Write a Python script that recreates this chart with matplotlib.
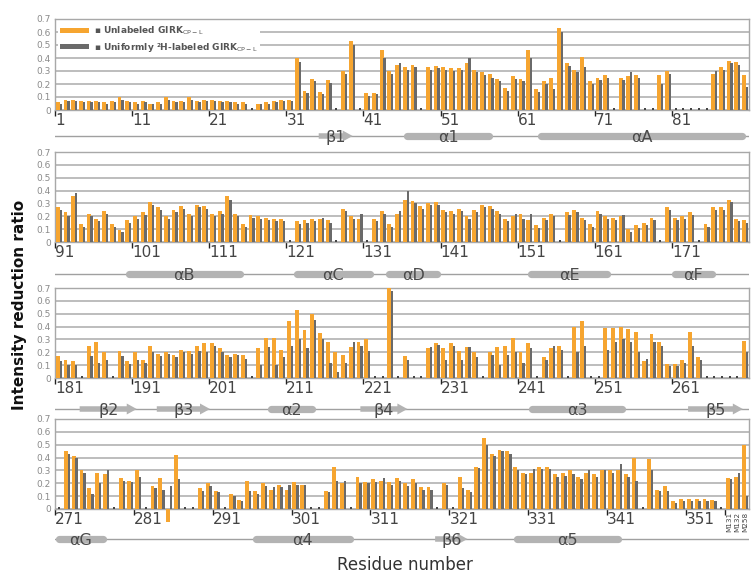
import numpy as np
import matplotlib
matplotlib.use('Agg')
import matplotlib.pyplot as plt
from matplotlib.patches import Patch, FancyArrow

nan = np.nan

# ---------------- data ----------------
p1_orange = [0.06,0.08,0.08,0.07,0.07,0.07,0.06,0.07,0.10,0.07,
             0.06,0.07,0.05,0.06,0.10,0.07,0.07,0.10,0.07,0.08,
             0.08,0.07,0.07,0.06,0.06,nan,0.05,0.06,0.07,0.08,
             0.08,0.40,0.15,0.24,0.14,0.23,nan,0.30,0.53,nan,
             0.13,0.13,0.46,0.30,0.35,0.33,0.35,nan,0.33,0.34,
             0.33,0.32,0.32,0.36,0.31,0.29,0.28,0.24,0.17,0.26,
             0.24,0.46,0.16,0.22,0.25,0.63,0.36,0.31,0.41,0.22,
             0.25,0.27,nan,0.25,0.26,0.27,nan,nan,0.27,0.30,
             nan,nan,nan,nan,nan,0.28,0.33,0.38,0.37,0.27]
p1_gray = [0.05,0.07,0.07,0.06,0.06,0.06,0.05,0.06,0.08,0.06,
           0.05,0.06,0.05,0.05,0.08,0.06,0.06,0.08,0.06,0.07,
           0.07,0.06,0.06,0.05,0.05,nan,0.05,0.05,0.06,0.07,
           0.07,0.37,0.13,0.22,0.12,0.21,nan,0.28,0.50,nan,
           0.11,0.12,0.40,0.28,0.36,0.31,0.33,nan,0.31,0.32,
           0.31,0.30,0.31,0.40,0.29,0.27,0.25,0.22,0.15,0.24,
           0.22,0.40,0.14,0.20,0.16,0.60,0.34,0.29,0.33,0.20,
           0.23,0.25,nan,0.23,0.29,0.25,nan,nan,0.20,0.28,
           nan,nan,nan,nan,nan,0.30,0.31,0.36,0.35,0.18]

p2_orange = [0.27,0.23,0.36,0.14,0.22,0.18,0.24,0.14,0.09,0.17,
             0.20,0.23,0.31,0.27,0.20,0.25,0.28,0.22,0.29,0.28,
             0.22,0.24,0.36,0.22,0.14,0.21,0.20,0.19,0.18,0.18,
             nan,0.16,0.17,0.18,0.18,0.17,nan,0.26,0.20,0.18,
             nan,0.18,0.24,0.14,0.22,0.33,0.32,0.28,0.30,0.31,
             0.25,0.24,0.26,0.20,0.25,0.29,0.28,0.24,0.18,0.20,
             0.22,0.17,0.13,0.19,0.22,nan,0.23,0.25,0.19,0.14,
             0.24,0.20,0.19,0.20,0.10,0.13,0.15,0.19,nan,0.27,
             0.19,0.20,0.23,nan,0.14,0.27,0.27,0.33,0.18,0.17]
p2_gray = [0.25,0.20,0.38,0.12,0.20,0.16,0.22,0.12,0.08,0.15,
           0.18,0.21,0.29,0.25,0.18,0.23,0.26,0.20,0.27,0.26,
           0.20,0.22,0.33,0.20,0.12,0.19,0.18,0.17,0.16,0.16,
           nan,0.14,0.15,0.16,0.19,0.15,nan,0.24,0.18,0.22,
           nan,0.16,0.22,0.12,0.24,0.40,0.30,0.26,0.29,0.29,
           0.23,0.22,0.24,0.18,0.23,0.27,0.26,0.22,0.16,0.22,
           0.18,0.22,0.11,0.17,0.20,nan,0.21,0.23,0.17,0.12,
           0.22,0.18,0.17,0.21,0.08,0.11,0.13,0.17,nan,0.25,
           0.17,0.18,0.21,nan,0.12,0.25,0.25,0.31,0.16,0.15]

p3_orange = [0.17,0.14,0.13,nan,0.25,0.28,0.20,nan,0.21,0.13,
             0.20,0.14,0.25,0.19,0.20,0.18,0.22,0.21,0.25,0.27,
             0.27,0.23,0.18,0.19,0.18,nan,0.23,0.31,0.31,0.22,
             0.44,0.53,0.37,0.50,0.35,0.28,0.20,0.18,0.24,0.28,
             0.30,nan,nan,0.70,nan,0.17,nan,nan,0.23,0.27,
             0.23,0.27,0.21,0.24,0.20,nan,0.20,0.24,0.25,0.31,
             0.20,0.27,nan,0.16,0.23,0.25,nan,0.40,0.44,nan,
             nan,0.39,0.39,0.40,0.38,0.36,0.13,0.34,0.28,0.11,
             0.11,0.14,0.36,0.16,nan,nan,nan,nan,nan,0.29]
p3_gray = [0.13,0.10,0.10,nan,0.17,0.12,0.14,nan,0.17,0.11,
           0.14,0.12,0.20,0.17,0.19,0.16,0.20,0.19,0.21,0.20,
           0.25,0.20,0.16,0.18,0.15,nan,0.10,0.24,0.10,0.16,
           0.25,0.30,0.23,0.45,0.30,0.12,0.05,0.12,0.28,0.25,
           0.21,nan,nan,0.68,nan,0.14,nan,nan,0.24,0.26,
           0.14,0.25,0.14,0.24,0.16,nan,0.18,0.10,0.18,0.20,
           0.12,0.23,nan,0.14,0.25,0.22,nan,0.20,0.25,nan,
           nan,0.22,0.28,0.30,0.28,0.20,0.15,0.28,0.25,0.09,
           0.09,0.12,0.25,0.14,nan,nan,nan,nan,nan,0.20]

p4_orange = [nan,0.45,0.41,0.30,0.16,0.28,0.27,nan,0.24,0.22,
             0.30,nan,0.18,0.24,-0.10,0.42,nan,nan,0.16,0.20,
             0.14,nan,0.12,0.07,0.22,0.14,0.20,0.15,0.19,0.15,
             0.21,0.19,nan,nan,0.14,0.33,0.20,nan,0.25,0.21,
             0.23,0.22,0.21,0.24,0.20,0.23,0.17,0.17,nan,0.20,
             nan,0.25,0.15,0.33,0.55,0.43,0.46,0.45,0.33,0.28,
             0.28,0.33,0.33,0.27,0.28,0.30,0.25,0.28,0.27,0.30,
             0.30,0.30,0.27,0.40,nan,0.39,0.15,0.18,0.06,0.08,
             0.08,0.08,0.08,0.07,nan,0.24,0.25,0.50]
p4_gray = [nan,0.43,0.40,0.28,0.12,0.20,0.30,nan,0.22,0.21,
           0.25,nan,0.16,0.15,0.18,0.23,nan,nan,0.14,0.18,
           0.13,nan,0.10,0.06,0.14,0.12,0.18,0.17,0.17,0.19,
           0.19,0.19,nan,nan,0.13,0.22,0.22,nan,0.20,0.20,
           0.21,0.24,0.19,0.22,0.18,0.20,0.15,0.15,nan,0.19,
           nan,0.16,0.13,0.32,0.50,0.41,0.45,0.43,0.30,0.27,
           0.31,0.31,0.31,0.25,0.26,0.27,0.23,0.30,0.25,0.30,
           0.28,0.35,0.25,0.22,nan,0.30,0.14,0.14,0.05,0.06,
           0.06,0.06,0.06,0.06,nan,0.23,0.28,0.10]

p1_ticks = ['1', '11', '21', '31', '41', '51', '61', '71', '81']
p2_ticks = ['91', '101', '111', '121', '131', '141', '151', '161', '171']
p3_ticks = ['181', '191', '201', '211', '221', '231', '241', '251', '261']
p4_ticks = ['271', '281', '291', '301', '311', '321', '331', '341', '351']
p4_extra = ['M131', 'M132', 'M258']

# secondary structure: (kind, start, end, label) in slot units
p1_ss = [('E', 34.2, 38.6, 'β1'), ('H', 45.2, 56.8, 'α1'), ('H', 62.6, 89.6, 'αA')]
p2_ss = [('H', 9.1, 24.4, 'αB'), ('H', 30.9, 41.3, 'αC'), ('H', 42.9, 50.0, 'αD'),
         ('H', 61.3, 72.1, 'αE'), ('H', 79.9, 85.7, 'αF')]
p3_ss = [('E', 3.2, 10.6, 'β2'), ('E', 13.2, 20.1, 'β3'), ('H', 27.5, 33.8, 'α2'),
         ('E', 39.6, 45.7, 'β4'), ('H', 61.4, 74.0, 'α3'), ('E', 82.1, 89.2, 'β5')]
p4_ss = [('H', 0.0, 6.5, 'αG'), ('H', 25.0, 37.8, 'α4'), ('E', 48.2, 52.3, 'β6'),
         ('H', 58.1, 71.8, 'α5')]

legend_labels = ['▪ Unlabeled GIRK$_{\\rm CP-L}$', '▪ Uniformly ²H-labeled GIRK$_{\\rm CP-L}$']

# ---------------- drawing ----------------
W, H = 753, 574
fig = plt.figure(figsize=(W / 100, H / 100), dpi=100)
fig.patch.set_facecolor('white')

ORANGE = '#F6A530'
GRAY = '#6A6A6A'
SSCOL = '#b3b3b3'

panels = [
    (p1_orange, p1_gray, p1_ticks, p1_ss, 19, 110, 136),
    (p2_orange, p2_gray, p2_ticks, p2_ss, 152, 242, 274),
    (p3_orange, p3_gray, p3_ticks, p3_ss, 288, 378, 409),
    (p4_orange, p4_gray, p4_ticks, p4_ss, 419, 509, 539),
]

L, R = 55, 749
axes = []
for k, (orng, gry, ticks, ss, top, bot, ssc) in enumerate(panels):
    orng = np.array(orng, dtype=float)
    gry = np.array(gry, dtype=float)
    n = len(orng)
    ax = fig.add_axes([L / W, 1 - bot / H, (R - L) / W, (bot - top) / H])
    axes.append(ax)
    x = np.arange(n)
    ax.bar(x + 0.36, orng, width=0.50, color=ORANGE, zorder=3, clip_on=False, linewidth=0)
    ax.bar(x + 0.74, gry, width=0.30, color=GRAY, zorder=3, clip_on=False, linewidth=0)
    miss = np.isnan(orng) & np.isnan(gry)
    ax.scatter(x[miss] + 0.5, np.full(miss.sum(), 0.01), marker='s', s=4,
               color='#444444', zorder=4, clip_on=False, linewidths=0)
    ax.set_xlim(0, n)
    ax.set_ylim(0, 0.7)
    yt = np.round(np.arange(0, 0.71, 0.1), 1)
    ax.set_yticks(yt)
    ax.set_yticklabels(['0'] + ['%.1f' % v for v in yt[1:]])
    ax.yaxis.grid(True, color='#bdbdbd', lw=1.4)
    ax.set_axisbelow(True)
    for sp in ax.spines.values():
        sp.set_color('#a8a8a8')
        sp.set_linewidth(1.0)
    ax.tick_params(axis='y', length=0, labelsize=6.5, labelcolor='#8a8a8a', pad=3)
    tpos = list(range(0, 10 * len(ticks), 10))
    tlab = list(ticks)
    if k == 3:
        tpos.append(85)
        tlab.append('')
    ax.set_xticks(tpos)
    ax.set_xticklabels(tlab, fontsize=11, color='#444444')
    ax.tick_params(axis='x', length=4, width=1, color='#222222', pad=-2)
    for lab in ax.get_xticklabels():
        lab.set_ha('left')
    if k == 3:
        for j, t in enumerate(p4_extra):
            ax.text(85 + j + 0.5, -0.025, t, rotation=90, ha='center', va='top',
                    fontsize=5.2, color='#444444', clip_on=False)

    # secondary structure row
    sax = fig.add_axes([L / W, 1 - (ssc + 10) / H, (R - L) / W, 20 / H])
    sax.set_xlim(0, n)
    sax.set_ylim(-1, 1)
    sax.axis('off')
    sax.plot([0, n], [0, 0], color='#a0a0a0', lw=1.0, zorder=1)
    pxu = (R - L) / n  # px per slot
    for kind, s, e, lab in ss:
        if kind == 'H':
            r = 3.5 / pxu
            sax.plot([s + r, e - r], [0, 0], color=SSCOL, lw=5.2,
                     solid_capstyle='round', zorder=2)
        else:
            sax.add_patch(FancyArrow(s, 0, e - s, 0, width=0.55, head_width=1.1,
                                     head_length=10 / pxu, length_includes_head=True,
                                     color=SSCOL, lw=0, zorder=2))
        sax.text((s + e) / 2, -0.15, lab, ha='center', va='center', fontsize=11.5,
                 color='#4a4a4a', zorder=3)

# legend
leg = axes[0].legend(handles=[Patch(facecolor=ORANGE, edgecolor='none'),
                              Patch(facecolor=GRAY, edgecolor='none')],
                     labels=legend_labels, loc='upper left',
                     bbox_to_anchor=(0.0, 1.0), fontsize=6.5, frameon=True,
                     handlelength=3.2, handleheight=0.55, labelspacing=0.4,
                     handletextpad=0.5, borderaxespad=0.3, borderpad=0.3)
leg.get_frame().set_facecolor('white')
leg.get_frame().set_edgecolor('none')
leg.get_frame().set_alpha(1)
for t in leg.get_texts():
    t.set_color('#555555')
    t.set_fontweight('bold')

fig.text(20 / W, 1 - 305 / H, 'Intensity reduction ratio', rotation=90,
         ha='center', va='center', fontsize=11, fontweight='bold', color='#111111')
fig.text(405 / W, 1 - 565 / H, 'Residue number', ha='center', va='center',
         fontsize=12, color='#333333')

fig.savefig('out.png', dpi=100, facecolor='white')
